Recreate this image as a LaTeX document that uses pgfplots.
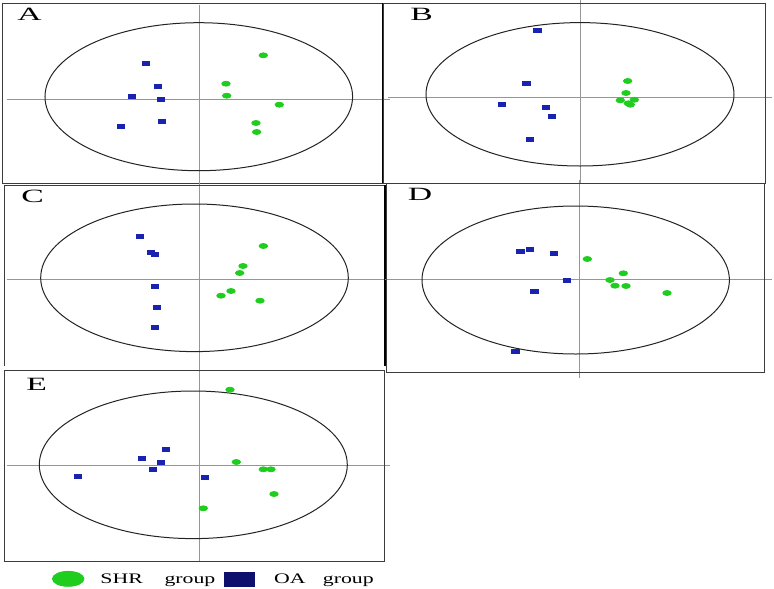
\documentclass[border=0pt]{standalone}
\usepackage{pgfplots}
\pgfplotsset{compat=1.18}
\usepackage{fontspec}
\setmainfont{Liberation Serif}
\usepackage{graphicx}

\definecolor{shrgreen}{RGB}{30,205,30}
\definecolor{oablue}{RGB}{25,35,175}
\definecolor{oanavy}{RGB}{15,15,110}
\definecolor{crossgray}{RGB}{150,150,150}
\definecolor{framegray}{RGB}{60,60,60}
\definecolor{ellcol}{RGB}{35,35,35}

\pgfplotsset{
  panel/.style={x=0.5bp, y=0.5bp, hide axis, clip=false, enlargelimits=false, anchor=south west},
  shr/.style={only marks, mark=*, mark size=1.25bp, color=shrgreen, mark options={xscale=1.7, draw=shrgreen, fill=shrgreen}, forget plot},
  oa/.style={only marks, mark=square*, mark size=1bp, color=oablue, mark options={xscale=1.8, draw=oablue, fill=oablue}, forget plot},
  cross/.style={crossgray, line width=0.5bp, no marks, forget plot},
}
\newcommand{\plab}[1]{{\fontsize{9.4}{10}\selectfont\scalebox{1.8}[1]{#1}}}

\begin{document}
\begin{tikzpicture}
\useasboundingbox (0,0) rectangle (387bp,-294.5bp);

% ---------------- A ----------------
\begin{axis}[panel, at={(1bp,-91.5bp)}, xmin=-197.3, xmax=183.7, ymin=-84, ymax=96]
\addplot[cross] coordinates {(-192.3,0) (190.7,0)};
\addplot[cross] coordinates {(0,94) (0,-83)};
\draw[ellcol, line width=0.5bp] (axis cs:-0.5,2.3) ellipse [x radius=76.9bp, y radius=37bp];
\addplot[oa] table {
x y
-53.3 35.7
-41.3 12.3
-67.3 3.0
-38.0 -0.3
-37.6 -22.7
-78.0 -27.7
};
\addplot[shr] table {
x y
64.0 43.7
26.7 15.3
27.4 3.3
80.0 -5.7
56.7 -24.0
57.4 -33.0
};
\draw[framegray, line width=0.5bp] (rel axis cs:0,0) rectangle (rel axis cs:1,1);
\draw[black, line width=1bp] (rel axis cs:1,0) -- (rel axis cs:1,1);
\node at (axis cs:-169.8,84.5) {\plab{A}};
\end{axis}

% ---------------- B ----------------
\begin{axis}[panel, at={(191.5bp,-91.5bp)}, xmin=-197, xmax=186, ymin=-86, ymax=94]
\addplot[cross] coordinates {(-192,0) (192,0)};
\addplot[cross] coordinates {(0,97) (0,-86)};
\draw[ellcol, line width=0.5bp] (axis cs:0,2.7) ellipse [x radius=77bp, y radius=35.85bp];
\addplot[oa] table {
x y
-42.7 67
-53.7 13.3
-78.3 -7
-34 -10.3
-28 -19
-50 -42.7
};
\addplot[shr] table {
x y
47.7 16
46 4
40.3 -3.3
54.3 -2.7
48.3 -6.3
50.3 -7.7
};
\draw[framegray, line width=0.5bp] (rel axis cs:0,0) rectangle (rel axis cs:1,1);
\node at (axis cs:-158.3,82.5) {\plab{B}};
\end{axis}

% ---------------- C ----------------
\begin{axis}[panel, at={(2bp,-183bp)}, xmin=-195.3, xmax=185.7, ymin=-86.3, ymax=94.7]
\addplot[cross] coordinates {(-192.3,0) (190.7,0)};
\addplot[cross] coordinates {(0,97.7) (0,-87.3)};
\draw[ellcol, line width=0.5bp] (axis cs:-4.8,1.9) ellipse [x radius=76.9bp, y radius=36.9bp];
\addplot[oa] table {
x y
-59 43.7
-48.3 27.7
-44 25
-44.3 -6.3
-42 -27.6
-44.6 -47.3
};
\addplot[shr] table {
x y
64 33.7
43.7 13.7
40.4 6.7
31.7 -11.3
21.7 -16
60.7 -21
};
\draw[framegray, line width=0.5bp] (rel axis cs:0,0) -- (rel axis cs:0,1) -- (rel axis cs:1,1);
\draw[black, line width=1.2bp] (rel axis cs:1,1) -- (rel axis cs:1,0);
\node at (axis cs:-166.8,83.7) {\plab{C}};
\end{axis}

% ---------------- D ----------------
\begin{axis}[panel, at={(193bp,-186bp)}, xmin=-193.5, xmax=185.5, ymin=-92.3, ymax=96.7]
\addplot[cross] coordinates {(-194.5,0) (192.5,0)};
\addplot[cross] coordinates {(0,99.7) (0,-98.3)};
\draw[ellcol, line width=0.5bp] (axis cs:-3.8,-0.3) ellipse [x radius=76.85bp, y radius=37bp];
\addplot[oa] table {
x y
-59.2 28.4
-49.8 30.4
-25.8 26.7
-12.5 -1
-45.2 -11.6
-64.2 -71.3
};
\addplot[shr] table {
x y
7.8 20.7
43.8 6.4
30.5 -0.3
35.5 -6
46.5 -6.3
87.5 -13.3
};
\draw[framegray, line width=0.5bp] (rel axis cs:0,0) rectangle (rel axis cs:1,1);
\node at (axis cs:-159.5,85.2) {\plab{D}};
\end{axis}

% ---------------- E ----------------
\begin{axis}[panel, at={(2bp,-280.5bp)}, xmin=-195.3, xmax=185.7, ymin=-96, ymax=95,
  legend columns=2, legend cell align=left,
  legend style={at={(0.126,-0.0942)}, anchor=west, draw=none, fill=none, inner sep=0pt, outer sep=0pt,
    nodes={inner sep=0pt, font=\fontsize{7.3}{8}\selectfont}, column sep=0pt,
    /tikz/every even column/.append style={column sep=4.5bp}}]
\addplot[cross] coordinates {(-192.3,0) (190.7,0)};
\addplot[cross] coordinates {(0,100) (0,-97)};
\draw[ellcol, line width=0.5bp] (axis cs:-6,0.2) ellipse [x radius=77bp, y radius=36.9bp];
\addplot[oa] table {
x y
-33 15.7
-57 6.3
-38 2.3
-46.6 -4
-121.6 -11.3
5.7 -12
};
\addplot[shr] table {
x y
30.7 75.3
37 3
64 -4.3
71.7 -4.3
74.7 -29
4 -43.3
};
\draw[framegray, line width=0.5bp] (rel axis cs:0,0) rectangle (rel axis cs:1,1);
\node at (axis cs:-162.6,81) {\plab{E}};
\addlegendimage{legend image code/.code={\fill[shrgreen] (7.9bp,0) ellipse [x radius=7.9bp, y radius=3.75bp]; \path[draw=none, fill=none] (0,0) -- (24bp,0);}}
\addlegendentry{\makebox[57.5bp][l]{\scalebox{1.5}[1]{SHR}\hfill\scalebox{1.5}[1]{group}}}
\addlegendimage{legend image code/.code={\fill[oanavy] (0,-3.9bp) rectangle (14.65bp,3.9bp); \path[draw=none, fill=none] (0,0) -- (24.65bp,0);}}
\addlegendentry{\makebox[49.85bp][l]{\scalebox{1.5}[1]{OA}\hfill\scalebox{1.5}[1]{group}}}
\end{axis}
\end{tikzpicture}
\end{document}
